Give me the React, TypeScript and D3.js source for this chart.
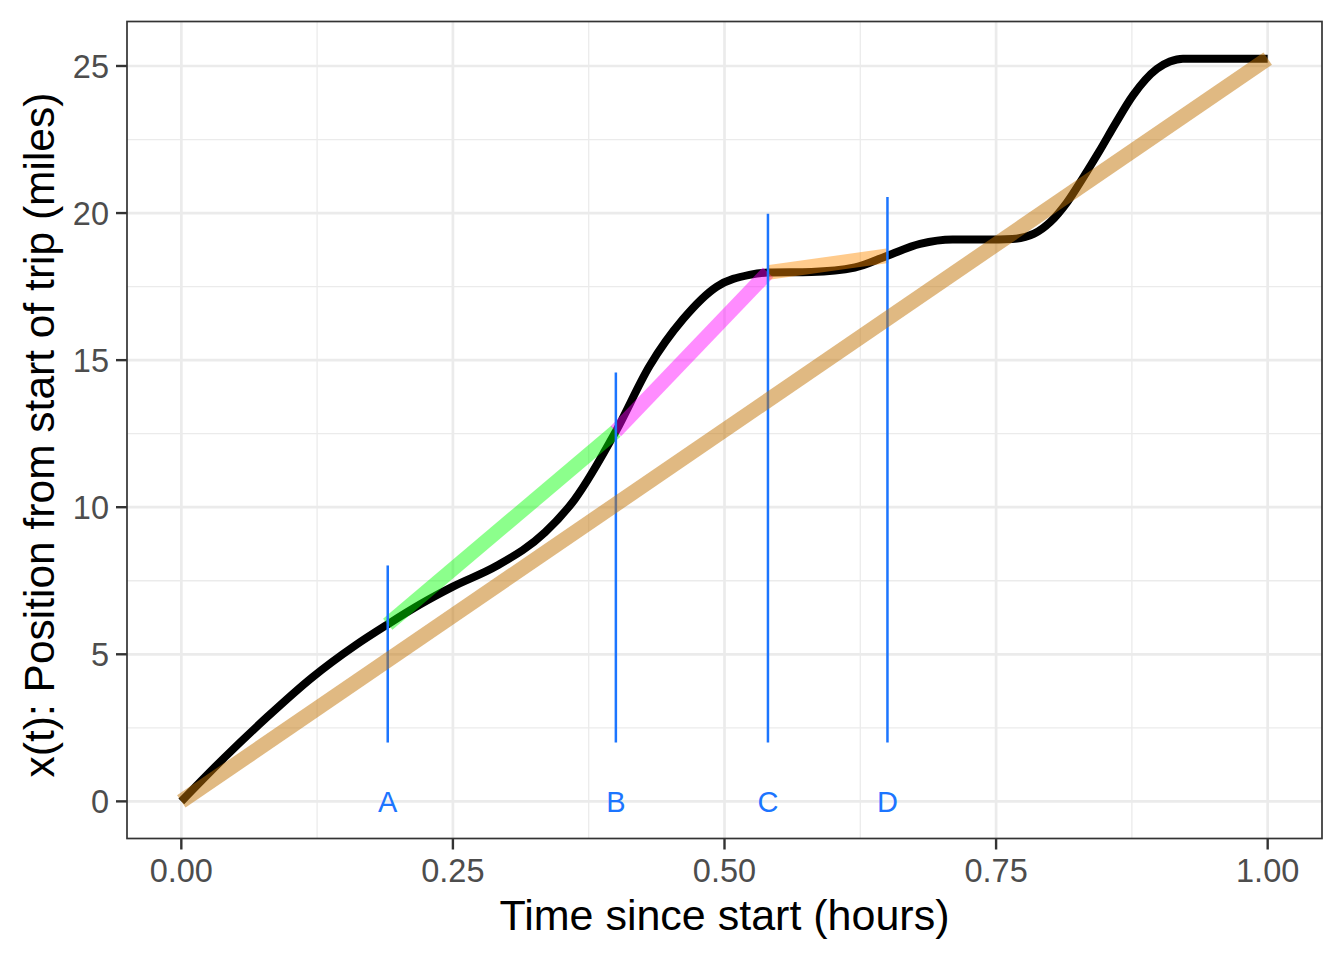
import React from "react";
import * as d3 from "d3";

// ---- data ----
const curveT = [0, 0.04, 0.08, 0.12, 0.16, 0.19, 0.22, 0.25, 0.29, 0.335, 0.362, 0.4, 0.431, 0.462, 0.493, 0.523, 0.54, 0.58, 0.62, 0.65, 0.68, 0.71, 0.74, 0.765, 0.785, 0.8, 0.815, 0.83, 0.845, 0.86, 0.876, 0.898, 0.91, 0.922, 0.95, 1.0];
const curveX = [0, 1.5, 2.9, 4.2, 5.3, 6.02, 6.7, 7.3, 8.0, 9.15, 10.26, 12.58, 14.8, 16.4, 17.5, 17.9, 17.98, 18.0, 18.15, 18.55, 18.95, 19.1, 19.1, 19.12, 19.3, 19.7, 20.35, 21.2, 22.1, 23.05, 24.0, 24.9, 25.15, 25.25, 25.25, 25.25];

const markerLabels = ["A", "B", "C", "D"];
const markerTimes = [0.19, 0.4, 0.54, 0.65];
const markerPositions = [6.02, 12.58, 17.98, 18.55];
const segmentColors = ["#00FF00", "#FF00FF", "#FF8C00"];

const averageT = [0, 1];
const averageX = [0, 25.25];

const xTicks = [0, 0.25, 0.5, 0.75, 1];
const xTickLabels = ["0.00", "0.25", "0.50", "0.75", "1.00"];
const xMinor = [0.125, 0.375, 0.625, 0.875];
const yTicks = [0, 5, 10, 15, 20, 25];
const yMinor = [2.5, 7.5, 12.5, 17.5, 22.5];

const xTitle = "Time since start (hours)";
const yTitle = "x(t): Position from start of trip (miles)";

// ---- layout ----
const W = 1344;
const H = 960;
const L = 127, R = 1322, T = 21.5, B = 838.5;
const FONT = "'Liberation Sans', Arial, Helvetica, sans-serif";

export default function App() {
  const x = d3.scaleLinear().domain([-0.05, 1.05]).range([L, R]);
  const y = d3.scaleLinear().domain([-1.2625, 26.5125]).range([B, T]);

  const line = d3
    .line<number>()
    .x((_, i) => x(curveT[i]))
    .y((d) => y(d))
    .curve(d3.curveMonotoneX);
  const curvePath = line(curveX) || "";

  const blue = "#1C75FF";

  return (
    <svg
      width={W}
      height={H}
      style={{ position: "absolute", left: 0, top: 0, background: "#fff" }}
      fontFamily={FONT}
    >
      <rect x={0} y={0} width={W} height={H} fill="#fff" />
      <defs>
        <clipPath id="panel">
          <rect x={L} y={T} width={R - L} height={B - T} />
        </clipPath>
      </defs>
      {/* minor grid */}
      {xMinor.map((v) => (
        <line key={"xm" + v} x1={x(v)} x2={x(v)} y1={T} y2={B} stroke="#EBEBEB" strokeWidth={1.3} />
      ))}
      {yMinor.map((v) => (
        <line key={"ym" + v} x1={L} x2={R} y1={y(v)} y2={y(v)} stroke="#EBEBEB" strokeWidth={1.3} />
      ))}
      {/* major grid */}
      {xTicks.map((v) => (
        <line key={"xM" + v} x1={x(v)} x2={x(v)} y1={T} y2={B} stroke="#EBEBEB" strokeWidth={2.7} />
      ))}
      {yTicks.map((v) => (
        <line key={"yM" + v} x1={L} x2={R} y1={y(v)} y2={y(v)} stroke="#EBEBEB" strokeWidth={2.7} />
      ))}

      <g clipPath="url(#panel)">
        {/* position curve */}
        <path d={curvePath} fill="none" stroke="#000" strokeWidth={8} strokeLinejoin="round" strokeLinecap="butt" />
        {/* secant segments */}
        {segmentColors.map((c, i) => (
          <line
            key={"seg" + i}
            x1={x(markerTimes[i])}
            y1={y(markerPositions[i])}
            x2={x(markerTimes[i + 1])}
            y2={y(markerPositions[i + 1])}
            stroke={c}
            strokeOpacity={0.45}
            strokeWidth={14.5}
            strokeLinecap="butt"
          />
        ))}
        {/* vertical markers */}
        {markerTimes.map((t, i) => (
          <line
            key={"mk" + i}
            x1={x(t)}
            x2={x(t)}
            y1={y(2)}
            y2={y(markerPositions[i] + 2)}
            stroke={blue}
            strokeWidth={2.5}
          />
        ))}
        {/* average line */}
        <line
          x1={x(averageT[0])}
          y1={y(averageX[0])}
          x2={x(averageT[1])}
          y2={y(averageX[1])}
          stroke="rgb(193,115,5)"
          strokeOpacity={0.5}
          strokeWidth={15}
          strokeLinecap="butt"
        />
        {markerTimes.map((t, i) => (
          <text
            key={"lb" + i}
            x={x(t)}
            y={y(0)}
            dy="0.36em"
            textAnchor="middle"
            fontSize={29}
            fill={blue}
          >
            {markerLabels[i]}
          </text>
        ))}
      </g>

      {/* panel border */}
      <rect x={L} y={T} width={R - L} height={B - T} fill="none" stroke="#333333" strokeWidth={1.7} />

      {/* x axis */}
      {xTicks.map((v, i) => (
        <g key={"xt" + v}>
          <line x1={x(v)} x2={x(v)} y1={B} y2={B + 11} stroke="#333333" strokeWidth={2.4} />
          <text x={x(v)} y={882} textAnchor="middle" fontSize={32.5} fill="#4D4D4D">
            {xTickLabels[i]}
          </text>
        </g>
      ))}
      {/* y axis */}
      {yTicks.map((v) => (
        <g key={"yt" + v}>
          <line x1={L - 11} x2={L} y1={y(v)} y2={y(v)} stroke="#333333" strokeWidth={2.4} />
          <text x={L - 18} y={y(v)} dy="0.36em" textAnchor="end" fontSize={32.5} fill="#4D4D4D">
            {v}
          </text>
        </g>
      ))}

      <text x={(L + R) / 2} y={930} textAnchor="middle" fontSize={43} fill="#000">
        {xTitle}
      </text>
      <text
        transform={`translate(54, ${(T + B) / 2 + 5}) rotate(-90)`}
        textAnchor="middle"
        fontSize={42.5}
        fill="#000"
      >
        {yTitle}
      </text>
    </svg>
  );
}
